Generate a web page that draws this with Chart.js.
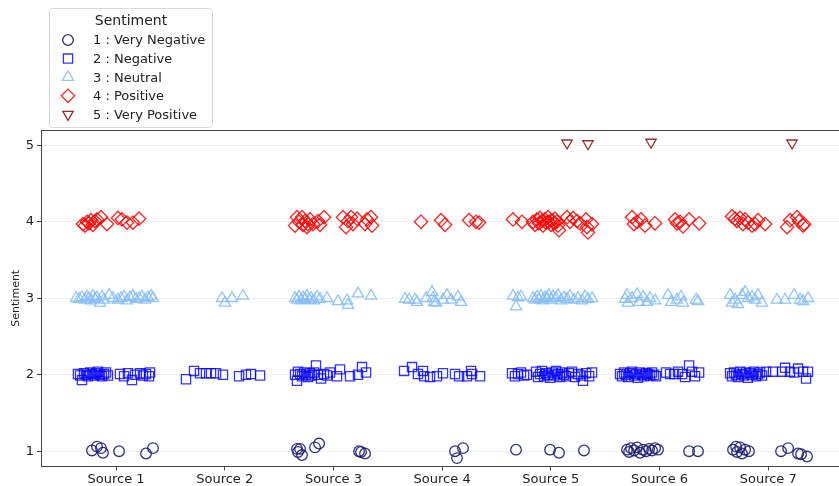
<!DOCTYPE html>
<html>
<head>
<meta charset="utf-8">
<title>Sentiment by Source</title>
<style>
  html, body { margin: 0; padding: 0; background: #fff; overflow: hidden; }
  #wrap { width: 839px; height: 486px; position: relative; }
  canvas { display: block; }
</style>
</head>
<body>
<div id="wrap"><canvas id="sentimentChart"></canvas></div>
<script src="https://cdn.jsdelivr.net/npm/chart.js"></script>
<script>
const sources = ['Source 1', 'Source 2', 'Source 3', 'Source 4', 'Source 5', 'Source 6', 'Source 7'];
const sentimentTicks = [1, 2, 3, 4, 5];
const sentimentLabels = ['1 : Very Negative', '2 : Negative', '3 : Neutral', '4 : Positive', '5 : Very Positive'];

// each point: [source index + jitter, sentiment + jitter]
const veryNegative = [
  [-0.221,1.01],[-0.175,1.06],[-0.138,1.04],[-0.120,0.98],[0.028,1.0],[0.276,0.97],[0.340,1.04],
  [1.665,1.03],[1.674,0.99],[1.693,1.03],[1.711,0.95],[1.831,1.05],[1.868,1.1],[2.236,1.0],[2.254,0.99],[2.291,0.97],
  [3.119,1.0],[3.137,0.91],[3.192,1.04],
  [3.680,1.02],[3.993,1.02],[4.075,0.98],[4.305,1.01],
  [4.701,1.02],[4.720,0.99],[4.738,1.04],[4.766,1.01],[4.793,1.05],[4.821,0.98],[4.848,1.02],[4.876,1.0],[4.904,1.03],[4.931,1.01],[4.959,1.04],[4.986,1.02],[5.272,1.0],[5.354,1.0],
  [5.676,1.02],[5.704,1.06],[5.713,0.99],[5.741,1.05],[5.759,0.97],[5.787,1.02],[5.823,1.0],[6.118,1.0],[6.183,1.04],[6.275,0.97],[6.302,0.96],[6.357,0.93]
];
const negative = [
  [-0.350,2.01],[-0.331,1.99],[-0.313,1.93],[-0.294,2.02],[-0.276,2.0],[-0.258,1.98],[-0.239,2.03],[-0.221,2.01],[-0.202,1.99],[-0.184,2.02],[-0.166,2.04],[-0.147,2.0],[-0.129,1.98],[-0.110,2.01],[-0.092,2.03],[-0.074,1.99],[0.037,2.01],[0.074,1.98],[0.110,2.02],[0.147,1.93],[0.175,2.0],[0.221,2.02],[0.248,1.99],[0.276,2.01],[0.304,1.98],[0.313,2.03],
  [0.644,1.94],[0.718,2.05],[0.773,2.02],[0.828,2.02],[0.874,2.02],[0.920,2.02],[0.984,2.0],[1.132,1.98],[1.196,2.0],[1.242,2.01],[1.325,1.99],
  [1.647,2.0],[1.665,1.92],[1.674,2.04],[1.693,2.01],[1.711,1.98],[1.730,2.03],[1.748,2.0],[1.766,1.97],[1.785,2.02],[1.803,1.99],[1.822,2.03],[1.840,2.12],[1.858,2.0],[1.886,1.95],[1.914,2.01],[1.941,1.99],[1.969,2.03],[2.033,1.98],[2.061,2.07],[2.153,1.98],[2.226,2.0],[2.263,2.1],[2.300,2.03],
  [2.650,2.05],[2.723,2.1],[2.778,2.01],[2.824,2.05],[2.834,1.98],[2.889,1.97],[2.953,1.98],[3.008,2.02],[3.119,2.01],[3.156,1.98],[3.229,1.98],[3.266,2.05],[3.275,2.01],[3.349,1.98],
  [3.643,2.02],[3.670,1.98],[3.698,2.01],[3.726,2.03],[3.754,1.99],[3.781,2.0],[3.864,2.04],[3.882,1.97],[3.901,2.01],[3.919,2.05],[3.938,1.98],[3.956,2.02],[3.974,2.0],[3.993,1.96],[4.011,2.03],[4.030,1.99],[4.048,2.05],[4.066,2.01],[4.085,1.97],[4.103,2.03],[4.122,2.0],[4.140,1.98],[4.168,2.02],[4.195,2.04],[4.223,1.97],[4.250,2.01],[4.278,1.99],[4.296,1.92],[4.324,2.02],[4.352,1.98],[4.379,2.03],
  [4.637,2.01],[4.655,1.98],[4.674,2.03],[4.692,2.0],[4.710,1.97],[4.729,2.02],[4.747,2.04],[4.766,1.99],[4.784,2.01],[4.802,1.96],[4.821,2.03],[4.839,2.0],[4.858,1.98],[4.876,2.02],[4.894,2.01],[4.913,1.99],[4.931,2.03],[4.950,2.0],[4.968,1.98],[5.060,2.03],[5.097,2.01],[5.134,2.01],[5.170,2.04],[5.207,2.01],[5.235,1.97],[5.272,2.12],[5.299,2.04],[5.327,1.98],[5.364,2.03],
  [5.649,2.02],[5.667,1.98],[5.685,2.03],[5.704,2.0],[5.722,1.97],[5.741,2.04],[5.759,2.01],[5.777,1.99],[5.796,2.03],[5.814,1.96],[5.833,2.02],[5.851,2.0],[5.869,2.04],[5.888,1.98],[5.906,2.01],[5.925,2.03],[5.943,1.99],[5.980,2.04],[6.044,2.04],[6.127,2.04],[6.155,2.09],[6.201,2.04],[6.238,2.03],[6.274,2.08],[6.320,2.04],[6.348,1.95],[6.366,2.04]
];
const neutral = [
  [-0.368,3.0],[-0.340,2.99],[-0.313,3.01],[-0.285,2.98],[-0.267,3.02],[-0.248,3.0],[-0.230,2.97],[-0.212,3.03],[-0.193,2.99],[-0.175,3.01],[-0.147,2.94],[-0.129,3.02],[-0.110,2.98],[-0.064,3.04],[-0.028,3.0],[0.018,2.98],[0.046,3.0],[0.074,3.02],[0.101,2.97],[0.129,3.01],[0.156,3.03],[0.184,2.99],[0.212,3.0],[0.239,3.02],[0.267,2.98],[0.294,3.01],[0.322,3.03],[0.340,3.0],
  [0.975,3.0],[1.003,2.94],[1.067,3.0],[1.168,3.03],
  [1.647,3.0],[1.665,2.98],[1.684,3.02],[1.702,2.97],[1.720,3.01],[1.739,2.99],[1.757,3.03],[1.776,2.98],[1.794,3.0],[1.822,2.97],[1.849,3.02],[1.877,2.99],[1.941,3.0],[2.042,2.96],[2.125,2.97],[2.134,2.91],[2.226,3.06],[2.346,3.03],
  [2.659,2.99],[2.696,2.98],[2.751,2.98],[2.769,2.95],[2.852,3.0],[2.907,3.08],[2.916,3.0],[2.925,2.95],[2.944,2.94],[3.008,2.98],[3.045,3.04],[3.082,2.98],[3.146,3.02],[3.174,2.95],
  [3.652,3.03],[3.680,2.89],[3.698,3.01],[3.726,3.02],[3.836,3.0],[3.854,2.98],[3.873,3.02],[3.891,2.99],[3.910,3.03],[3.928,2.97],[3.946,3.01],[3.965,3.0],[3.983,3.04],[4.001,2.98],[4.020,3.02],[4.048,3.0],[4.066,3.04],[4.094,2.97],[4.122,3.01],[4.149,2.99],[4.177,3.03],[4.214,2.98],[4.250,3.0],[4.287,2.97],[4.315,3.02],[4.342,2.99],[4.379,3.0],
  [4.683,2.99],[4.701,3.04],[4.710,2.94],[4.747,3.0],[4.793,3.05],[4.812,2.95],[4.848,3.02],[4.885,2.95],[4.913,3.0],[4.959,2.97],[5.078,3.04],[5.106,2.95],[5.161,2.98],[5.198,3.02],[5.216,2.94],[5.336,2.98],[5.354,2.96],
  [5.649,3.04],[5.667,2.94],[5.695,2.98],[5.722,2.92],[5.759,3.04],[5.787,3.08],[5.814,3.0],[5.851,3.02],[5.879,2.98],[5.906,3.04],[5.943,2.94],[6.081,2.98],[6.155,2.98],[6.238,3.04],[6.293,2.98],[6.320,2.96],[6.366,3.0]
];
const positive = [
  [-0.304,3.97],[-0.285,3.95],[-0.267,4.0],[-0.248,3.98],[-0.230,4.02],[-0.212,3.96],[-0.193,4.01],[-0.175,4.03],[-0.138,4.06],[-0.083,3.97],[0.018,4.05],[0.055,4.03],[0.101,3.99],[0.156,3.99],[0.212,4.04],
  [1.647,3.95],[1.665,4.06],[1.684,4.0],[1.711,4.06],[1.720,3.96],[1.739,4.01],[1.757,3.93],[1.766,3.97],[1.785,4.03],[1.812,3.97],[1.858,4.01],[1.877,3.96],[1.914,4.06],[2.088,4.06],[2.116,3.93],[2.134,4.01],[2.162,4.06],[2.180,3.97],[2.217,4.04],[2.291,3.97],[2.309,4.03],[2.346,4.06],[2.355,3.95],
  [2.806,4.0],[2.990,4.02],[3.027,3.96],[3.248,4.02],[3.312,4.0],[3.340,3.99],
  [3.652,4.03],[3.735,4.0],[3.836,4.0],[3.854,3.96],[3.873,4.03],[3.891,3.98],[3.900,4.05],[3.918,4.01],[3.928,3.95],[3.946,4.03],[3.955,3.99],[3.974,4.06],[3.983,4.0],[4.001,3.96],[4.010,4.02],[4.029,3.98],[4.038,4.04],[4.056,4.0],[4.065,3.95],[4.075,3.89],[4.149,4.06],[4.176,4.0],[4.204,4.05],[4.241,4.01],[4.268,3.98],[4.324,4.03],[4.333,3.93],[4.379,3.97],[4.342,3.86],
  [4.747,4.06],[4.765,3.97],[4.793,4.0],[4.830,4.03],[4.866,3.95],[4.958,3.98],[5.143,4.03],[5.161,3.98],[5.189,4.0],[5.216,3.94],[5.272,4.03],[5.364,3.98],
  [5.667,4.07],[5.695,4.04],[5.713,4.01],[5.741,4.05],[5.768,3.97],[5.787,4.03],[5.814,3.99],[5.851,3.95],[5.879,3.97],[5.906,4.02],[5.971,3.97],[6.173,3.93],[6.201,4.02],[6.265,4.06],[6.284,4.01],[6.320,3.95],[6.330,3.97]
];
const veryPositive = [
  [4.149,5.03],[4.342,5.02],[4.922,5.04],[6.219,5.03]
];

const toPoints = arr => arr.map(p => ({ x: p[0], y: p[1] }));
const FONT = '"DejaVu Sans", "Liberation Sans", sans-serif';

function makeSet(i, pts, color, style, radius, rotation) {
  return {
    label: sentimentLabels[i],
    data: toPoints(pts),
    pointStyle: style,
    pointRadius: radius,
    pointRotation: rotation || 0,
    borderColor: color,
    backgroundColor: 'rgba(0,0,0,0)',
    pointBorderWidth: 1.3
  };
}

const datasets = [
  makeSet(0, veryNegative, 'rgba(25,25,112,0.9)', 'circle', 5.3),
  makeSet(1, negative, 'rgba(0,0,255,0.8)', 'rect', 6.5),
  makeSet(2, neutral, 'rgba(135,190,245,0.9)', 'triangle', 6.5),
  makeSet(3, positive, 'rgba(255,0,0,0.85)', 'rectRot', 6.7),
  makeSet(4, veryPositive, 'rgba(139,26,26,0.9)', 'triangle', 6, 180)
];

// box frame on top edge (matplotlib style spine)
const topSpine = {
  id: 'topSpine',
  afterDraw(chart) {
    const a = chart.chartArea, ctx = chart.ctx;
    ctx.save();
    ctx.strokeStyle = '#444';
    ctx.lineWidth = 1;
    ctx.beginPath();
    ctx.moveTo(a.left, a.top + 0.5);
    ctx.lineTo(a.right, a.top + 0.5);
    ctx.stroke();
    ctx.restore();
  }
};

// matplotlib style legend box in the top-left corner
const legendBox = {
  id: 'legendBox',
  afterDraw(chart) {
    const ctx = chart.ctx;
    const bx = 49.5, by = 8.5, bw = 163, bh = 119;
    ctx.save();
    ctx.beginPath();
    if (ctx.roundRect) ctx.roundRect(bx, by, bw, bh, 3); else ctx.rect(bx, by, bw, bh);
    ctx.fillStyle = 'rgba(255,255,255,0.85)';
    ctx.fill();
    ctx.strokeStyle = '#d9d9d9';
    ctx.lineWidth = 1;
    ctx.stroke();

    ctx.fillStyle = '#222';
    ctx.textBaseline = 'middle';
    ctx.textAlign = 'center';
    ctx.font = '14px ' + FONT;
    ctx.fillText('Sentiment', bx + bw / 2, 21);

    ctx.textAlign = 'left';
    ctx.font = '13px ' + FONT;
    chart.data.datasets.forEach((ds, i) => {
      const cy = 40 + i * 18.6;
      ctx.strokeStyle = ds.borderColor;
      ctx.fillStyle = 'rgba(0,0,0,0)';
      ctx.lineWidth = ds.pointBorderWidth;
      Chart.helpers.drawPoint(ctx, {
        pointStyle: ds.pointStyle,
        radius: ds.pointRadius,
        rotation: ds.pointRotation,
        borderWidth: ds.pointBorderWidth
      }, 68, cy);
      ctx.fillStyle = '#222';
      ctx.fillText(ds.label, 93, cy + 1);
    });
    ctx.restore();
  }
};

new Chart(document.getElementById('sentimentChart'), {
  type: 'scatter',
  data: { datasets: datasets },
  options: {
    responsive: true,
    maintainAspectRatio: false,
    animation: false,
    layout: { autoPadding: false, padding: { top: 130, left: 0, right: 0, bottom: 0 } },
    plugins: {
      legend: { display: false },
      tooltip: { enabled: false }
    },
    scales: {
      x: {
        type: 'linear',
        min: -0.69,
        max: 6.651,
        afterBuildTicks: s => { s.ticks = sources.map((_, i) => ({ value: i })); },
        afterFit: s => { s.height = 19.5; },
        ticks: {
          callback: v => sources[v],
          font: { family: FONT, size: 13 },
          color: '#222',
          padding: 1,
          maxRotation: 0
        },
        grid: { drawOnChartArea: false, tickLength: 4, tickColor: '#444' },
        border: { color: '#444' }
      },
      y: {
        min: 0.8,
        max: 5.2,
        afterBuildTicks: s => { s.ticks = sentimentTicks.map(v => ({ value: v })); },
        afterFit: s => { s.width = 41; },
        ticks: {
          font: { family: FONT, size: 13 },
          color: '#222',
          padding: 3
        },
        grid: { color: '#eeeeee', tickLength: 4, tickColor: '#444' },
        border: { color: '#444' },
        title: {
          display: true,
          text: 'Sentiment',
          font: { family: FONT, size: 11 },
          color: '#222',
          padding: { top: 10, bottom: 0 }
        }
      }
    }
  },
  plugins: [topSpine, legendBox]
});
</script>
</body>
</html>
